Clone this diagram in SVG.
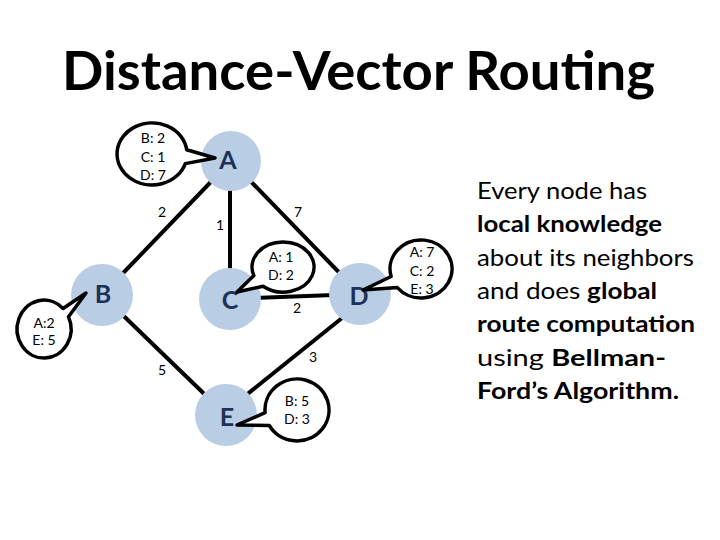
<svg xmlns="http://www.w3.org/2000/svg" width="720" height="540" viewBox="0 0 720 540">
<style>
text{font-family:Lato,"Liberation Sans",sans-serif;fill:#000}
.title{font-size:54px;font-weight:bold}
.node circle{fill:#b9cde5;stroke:none}
.node text{font-size:25px;font-weight:bold;fill:#1c3257;text-anchor:middle}
.edge{stroke:#000;stroke-width:4;fill:none}
.lbl{font-size:14px;text-anchor:middle}
.bubble path{fill:#fff;stroke:#000;stroke-width:3.5;stroke-linejoin:round}
.bubble text{font-size:14px;text-anchor:middle}
.body{font-size:23px}
.b{font-weight:bold}
</style>
<rect width="720" height="540" fill="#fff"/>
<text class="title" x="358.5" y="90" text-anchor="middle" textLength="593" lengthAdjust="spacingAndGlyphs">Distance-Vector Routing</text>
<g id="connectors">
<line class="edge" x1="231" y1="161" x2="102" y2="295"/>
<line class="edge" x1="230" y1="161" x2="230" y2="299"/>
<line class="edge" x1="231" y1="161" x2="360" y2="294"/>
<line class="edge" x1="230" y1="299" x2="360" y2="294"/>
<line class="edge" x1="102" y1="295" x2="226" y2="415"/>
<line class="edge" x1="347" y1="314" x2="245" y2="396"/>
<text class="lbl" x="162" y="217">2</text>
<text class="lbl" x="220" y="230">1</text>
<text class="lbl" x="298" y="217">7</text>
<text class="lbl" x="297" y="313">2</text>
<text class="lbl" x="162" y="375">5</text>
<text class="lbl" x="313" y="362">3</text>
</g>
<g id="node-A" class="node"><circle cx="231" cy="161" r="30"/><text x="228" y="169">A</text></g>
<g id="node-B" class="node"><circle cx="102" cy="295" r="31"/><text x="103" y="303">B</text></g>
<g id="node-C" class="node"><circle cx="230" cy="299" r="31"/><text x="230" y="309">C</text></g>
<g id="node-D" class="node"><circle cx="360" cy="294" r="31"/><text x="359" y="305">D</text></g>
<g id="node-E" class="node"><circle cx="226" cy="415" r="31"/><text x="227" y="426">E</text></g>
<g id="bubble-A" class="bubble">
<path d="M186.7,149.7 L215,158 L185.3,163.6 A35,31 0 1 1 186.7,149.7 Z"/>
<text x="153" y="143">B: 2</text><text x="153" y="162">C: 1</text><text x="153" y="180">D: 7</text>
</g>
<g id="bubble-B" class="bubble">
<path d="M63.1,308.5 L86,293 L68.5,316.7 A27,29 0 1 1 63.1,308.5 Z"/>
<text x="44" y="328">A:2</text><text x="44" y="345">E: 5</text>
</g>
<g id="bubble-C" class="bubble">
<path d="M263.1,286.2 L237,292 L253.9,275.6 A31,25 0 1 1 263.1,286.2 Z"/>
<text x="281" y="262">A: 1</text><text x="281" y="280">D: 2</text>
</g>
<g id="bubble-D" class="bubble">
<path d="M397.3,287.6 L363,290 L391.1,276.5 A31,29 0 1 1 397.3,287.6 Z"/>
<text x="422" y="257">A: 7</text><text x="422" y="276">C: 2</text><text x="422" y="294">E: 3</text>
</g>
<g id="bubble-E" class="bubble">
<path d="M269.3,425.5 L237,425 L265.1,412.7 A32,31 0 1 1 269.3,425.5 Z"/>
<text x="297" y="406">B: 5</text><text x="297" y="424">D: 3</text>
</g>
<g id="description" class="body">
<text x="477" y="199" textLength="170" lengthAdjust="spacingAndGlyphs">Every node has</text>
<text x="477" y="232" class="b" textLength="185" lengthAdjust="spacingAndGlyphs">local knowledge</text>
<text x="477" y="266" textLength="217" lengthAdjust="spacingAndGlyphs">about its neighbors</text>
<text x="477" y="299" textLength="180" lengthAdjust="spacingAndGlyphs">and does <tspan class="b">global</tspan></text>
<text x="477" y="332" class="b" textLength="218" lengthAdjust="spacingAndGlyphs">route computation</text>
<text x="477" y="366" textLength="189" lengthAdjust="spacingAndGlyphs">using <tspan class="b">Bellman-</tspan></text>
<text x="477" y="399" class="b" textLength="202" lengthAdjust="spacingAndGlyphs">Ford’s Algorithm.</text>
</g>
</svg>
